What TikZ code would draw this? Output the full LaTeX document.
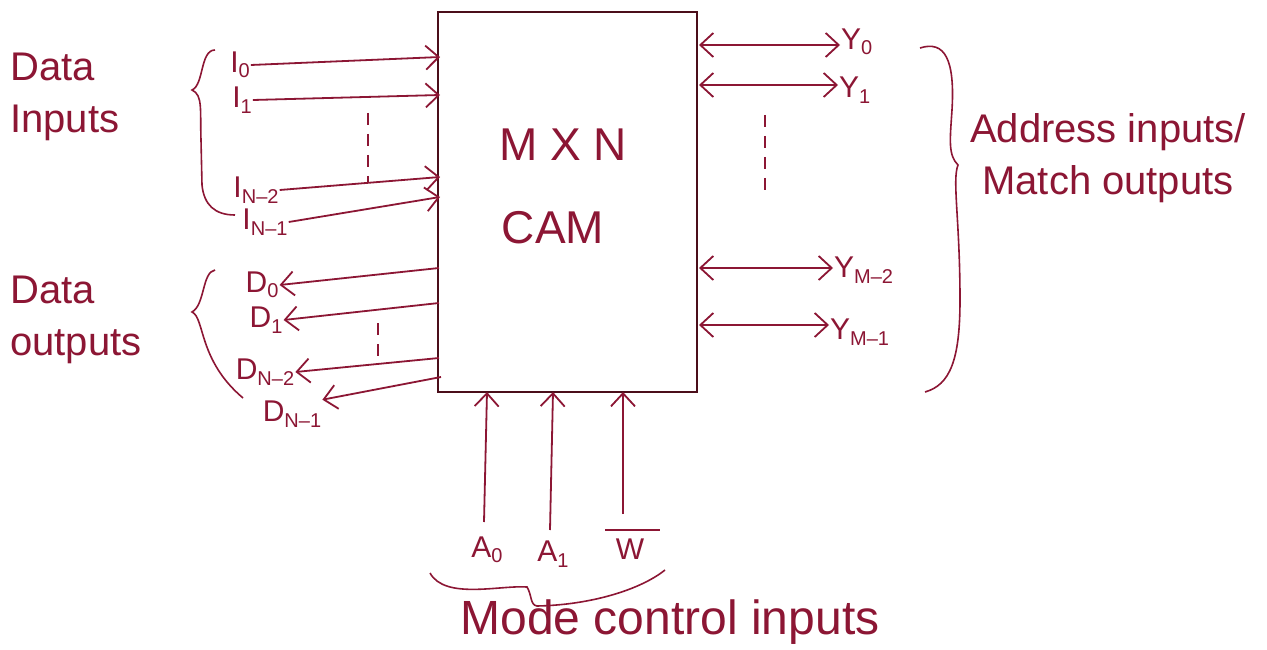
\documentclass[tikz,border=0pt]{standalone}
\usepackage{fontspec}
\setmainfont{Liberation Sans}
\usetikzlibrary{arrows.meta}
\definecolor{ink}{RGB}{140,22,52}
\definecolor{boxink}{RGB}{75,14,26}
\newcommand\lblsub[2]{#1\raisebox{-0.35ex}{\fontsize{20}{20}\selectfont #2}}
\begin{document}
\begin{tikzpicture}[x=1pt,y=-1pt,
  wire/.style={draw=ink, line width=1.8pt, -{Straight Barb[length=13pt,width=24pt,line width=1.8pt]}},
  biwire/.style={draw=ink, line width=1.8pt, {Straight Barb[length=13pt,width=24pt,line width=1.8pt]}-{Straight Barb[length=13pt,width=24pt,line width=1.8pt]}},
  lbl/.style={text=ink, inner sep=1pt, font=\fontsize{30}{32}\selectfont},
  big/.style={text=ink, inner sep=0pt, font=\fontsize{40}{52}\selectfont},
  brace/.style={draw=ink, line width=1.6pt},
  dots/.style={draw=ink, line width=1.4pt, dash pattern=on 12pt off 9pt}]

\fill[white] (0,0) rectangle (1267,650);
\useasboundingbox (0,0) rectangle (1267,650);

% main block
\node[draw=boxink, line width=2.2pt, minimum width=259pt, minimum height=380pt, inner sep=0pt] (cam) at (567.5,202) {};
\node[text=ink, font=\fontsize{46}{50}\selectfont] (mxn) at (563,145) {M X N};
\node[text=ink, font=\fontsize{46}{50}\selectfont] (camtxt) at (553,228) {CAM};

% data inputs
\node[big, align=left, anchor=west] (dinp) at (10,97) {Data\\Inputs};
\node[lbl] (i0) at (240,65) {\lblsub{I}{0}};
\node[lbl] (i1) at (242,100) {\lblsub{I}{1}};
\node[lbl] (in2) at (256,190) {\lblsub{I}{N–2}};
\node[lbl] (in1) at (265,222) {\lblsub{I}{N–1}};
\coordinate (ci0) at (440,57);
\coordinate (ci1) at (440,95);
\coordinate (cin2) at (440,177);
\coordinate (cin1) at (440,197);
\draw[wire] (i0.east) -- (ci0);
\draw[wire] (i1.east) -- (ci1);
\draw[wire] (in2.east) -- (cin2);
\draw[wire] (in1.east) -- (cin1);
\draw[dots] (368,113) -- (368,183);
\draw[brace] (215,50) .. controls (200,50) and (204,85) .. (192,90)
  .. controls (203,95) and (200,110) .. (201,140) -- (202,185)
  .. controls (204,205) and (215,215) .. (235,215);

% data outputs
\node[big, align=left, anchor=west] (dout) at (10,320) {Data\\outputs};
\node[lbl] (d0) at (262,285) {\lblsub{D}{0}};
\node[lbl] (d1) at (266,320) {\lblsub{D}{1}};
\node[lbl] (dn2) at (265,372) {\lblsub{D}{N–2}};
\node[lbl] (dn1) at (292,414) {\lblsub{D}{N–1}};
\coordinate (cd0) at (439,268);
\coordinate (cd1) at (439,303);
\coordinate (cdn2) at (439,358);
\coordinate (cdn1) at (441,377);
\draw[wire] (cd0) -- (d0.east);
\draw[wire] (cd1) -- (d1.east);
\draw[wire] (cdn2) -- (dn2.east);
\draw[wire] (cdn1) -- (dn1.north east);
\draw[dots] (378,323) -- (378,360);
\draw[brace] (215,270) .. controls (202,272) and (205,305) .. (192,312)
  .. controls (205,318) and (198,360) .. (243,398);

% address / match lines
\node[lbl, anchor=west] (y0) at (840,42) {\lblsub{Y}{0}};
\node[lbl, anchor=west] (y1) at (838,90) {\lblsub{Y}{1}};
\node[lbl, anchor=west] (ym2) at (833,270) {\lblsub{Y}{M–2}};
\node[lbl, anchor=west] (ym1) at (829,332) {\lblsub{Y}{M–1}};
\coordinate (cy0) at (699,45);
\coordinate (cy1) at (699,85);
\coordinate (cym2) at (699,268);
\coordinate (cym1) at (699,325);
\draw[biwire] (cy0) -- (y0.west |- cy0);
\draw[biwire] (cy1) -- (y1.west |- cy1);
\draw[biwire] (cym2) -- (ym2.west |- cym2);
\draw[biwire] (cym1) -- (ym1.west |- cym1);
\draw[dots] (765,115) -- (765,197);
\draw[brace] (920,48) .. controls (945,40) and (955,60) .. (952,110)
  .. controls (950,140) and (948,155) .. (958,165)
  .. controls (952,180) and (960,220) .. (960,300)
  .. controls (960,360) and (950,385) .. (925,392);
\node[big, align=center] (addr) at (1108,158) {Address inputs/\\Match outputs};

% mode control
\node[lbl] (a0) at (487,550) {\lblsub{A}{0}};
\node[lbl] (a1) at (553,554) {\lblsub{A}{1}};
\node[lbl] (w) at (630,549) {W};
\draw[draw=ink, line width=1.8pt] (605,530) -- (660,530);
\coordinate (a0s) at (484,522);
\coordinate (a1s) at (550,530);
\coordinate (ws) at (623,514);
\coordinate (ca0) at (487,392);
\coordinate (ca1) at (553,392);
\coordinate (cw) at (623,392);
\draw[wire] (a0s) -- (ca0);
\draw[wire] (a1s) -- (ca1);
\draw[wire] (ws) -- (cw);
\draw[brace] (430,573) .. controls (445,600) and (500,585) .. (527,587)
  .. controls (532,595) and (530,605) .. (537,606)
  .. controls (590,605) and (640,590) .. (665,570);
\node[big, font=\fontsize{48}{52}\selectfont] (mode) at (670,622) {Mode control inputs};
\end{tikzpicture}
\end{document}
